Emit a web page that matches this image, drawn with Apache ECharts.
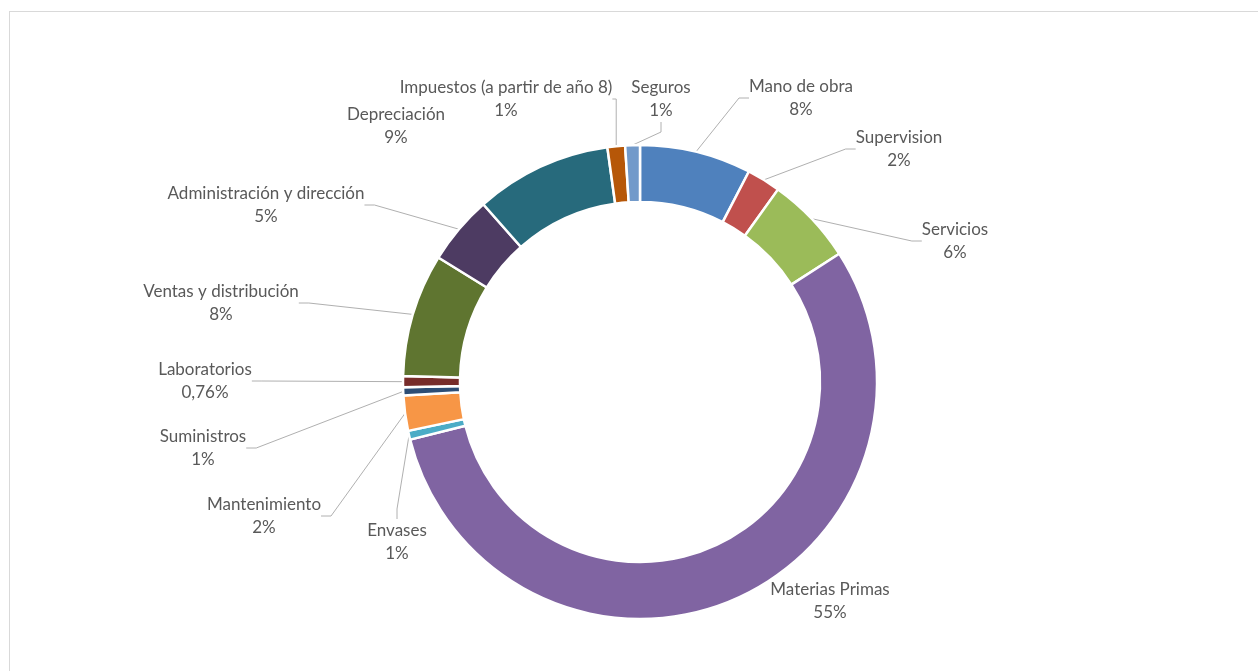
<!DOCTYPE html>
<html>
<head>
<meta charset="utf-8">
<script src="https://cdn.jsdelivr.net/npm/echarts@6/dist/echarts.min.js"></script>
<style>
  html, body { margin: 0; padding: 0; background: #fff; }
  #chart { width: 1258px; height: 671px; }
  #frame { position: absolute; left: 9px; top: 11px; width: 1300px; height: 700px; border-left: 1px solid #d9d9d9; border-top: 1px solid #d9d9d9; pointer-events: none; }
</style>
</head>
<body>
<div id="chart"></div>
<div id="frame"></div>
<script>
// ---- data ----
var categories = ['Mano de obra', 'Supervision', 'Servicios', 'Materias Primas', 'Envases', 'Mantenimiento', 'Suministros', 'Laboratorios', 'Ventas y distribución', 'Administración y dirección', 'Depreciación', 'Impuestos (a partir de año 8)', 'Seguros'];
var values = [7.6, 2.3, 6.0, 55.2, 0.6, 2.4, 0.55, 0.76, 8.4, 4.7, 9.3, 1.2, 1.0];
var pctLabels = ['8%', '2%', '6%', '55%', '1%', '2%', '1%', '0,76%', '8%', '5%', '9%', '1%', '1%'];

// ---- style / layout ----
var colors = ['#4F81BD', '#C0504D', '#9BBB59', '#8064A2', '#4BACC6', '#F79646', '#2C4D75', '#772C2A', '#5F7530', '#4D3B62', '#276A7C', '#B65708', '#729ACA'];
var labelPos = [[801, 98], [899, 149], [955, 241], [830, 601], [397, 542], [264, 516], [203, 448], [205, 381], [221, 303], [266, 205], [396, 126], [506, 99], [661, 99]];
var noLeader = [3, 10];

var chart = echarts.init(document.getElementById('chart'));
var data = categories.map(function (c, i) {
  var d = { name: c, value: values[i], itemStyle: { color: colors[i] } };
  if (noLeader.indexOf(i) >= 0) d.labelLine = { show: false };
  return d;
});
chart.setOption({
  animation: false,
  backgroundColor: '#fff',
  series: [{
    type: 'pie',
    center: [640, 382],
    radius: [180, 237],
    startAngle: 90,
    clockwise: true,
    avoidLabelOverlap: false,
    itemStyle: { borderColor: '#fff', borderWidth: 2.5 },
    label: {
      show: true,
      position: 'outside',
      color: '#595959',
      fontFamily: 'Lato',
      fontSize: 17,
      lineHeight: 23,
      align: 'center',
      formatter: function (p) { return p.name + '\n' + pctLabels[p.dataIndex]; }
    },
    labelLine: { show: true, length: 10, length2: 10, lineStyle: { color: '#b0b0b0', width: 1 } },
    labelLayout: function (p) {
      var pos = labelPos[p.dataIndex];
      return { x: pos[0], y: pos[1], align: 'center', verticalAlign: 'middle' };
    },
    data: data
  }]
});
</script>
</body>
</html>
